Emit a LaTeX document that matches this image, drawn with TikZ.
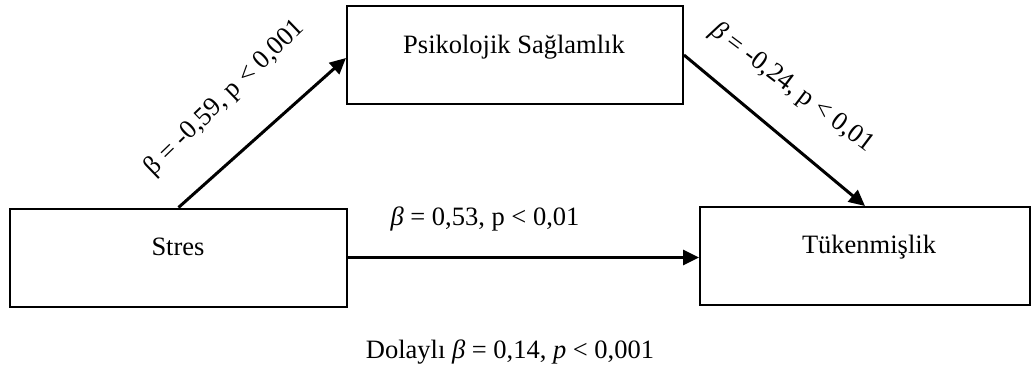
\documentclass[tikz,border=0pt]{standalone}
\usepackage{fontspec}
\setmainfont{Liberation Serif}
\usetikzlibrary{arrows.meta}
\begin{document}
\begin{tikzpicture}[x=1pt,y=-1pt,
  box/.style={draw,line width=2pt,inner sep=0pt,minimum width=#1,minimum height=98pt},
  txt/.style={font=\fontsize{26.5}{30}\selectfont,inner sep=0pt},
  arr/.style={line width=3pt,-{Triangle[length=16pt,width=15pt]}}]
\useasboundingbox (0,0) rectangle (1031,367);
\node[box=337pt] (stres) at (178.5,257.5) {};
\node[box=336pt] (psik) at (515,55) {};
\node[box=330pt] (tuk) at (865,256) {};
\node[txt,anchor=base] (stresT) at (178,255) {Stres};
\node[txt,anchor=base] (psikT) at (514,53) {Psikolojik Sağlamlık};
\node[txt,anchor=base] (tukT) at (869,253) {Tükenmişlik};
\draw[arr] (stres.north) -- ([yshift=-3pt]psik.west);
\draw[arr] (psik.east) -- (tuk.north);
\draw[arr] (stres.east) -- (stres.east -| tuk.west);
\node[txt,rotate=44] (l1) at (225,98) {β = -0,59, p < 0,001};
\node[txt,rotate=-37] (l2) at (792,88) {\textit{β} = -0,24, p < 0,01};
\node[txt,anchor=base] (l3) at (485,225) {\textit{β} = 0,53, p < 0,01};
\node[txt,anchor=base] (l4) at (510,358) {Dolaylı \textit{β} = 0,14, \textit{p} < 0,001};
\end{tikzpicture}
\end{document}
